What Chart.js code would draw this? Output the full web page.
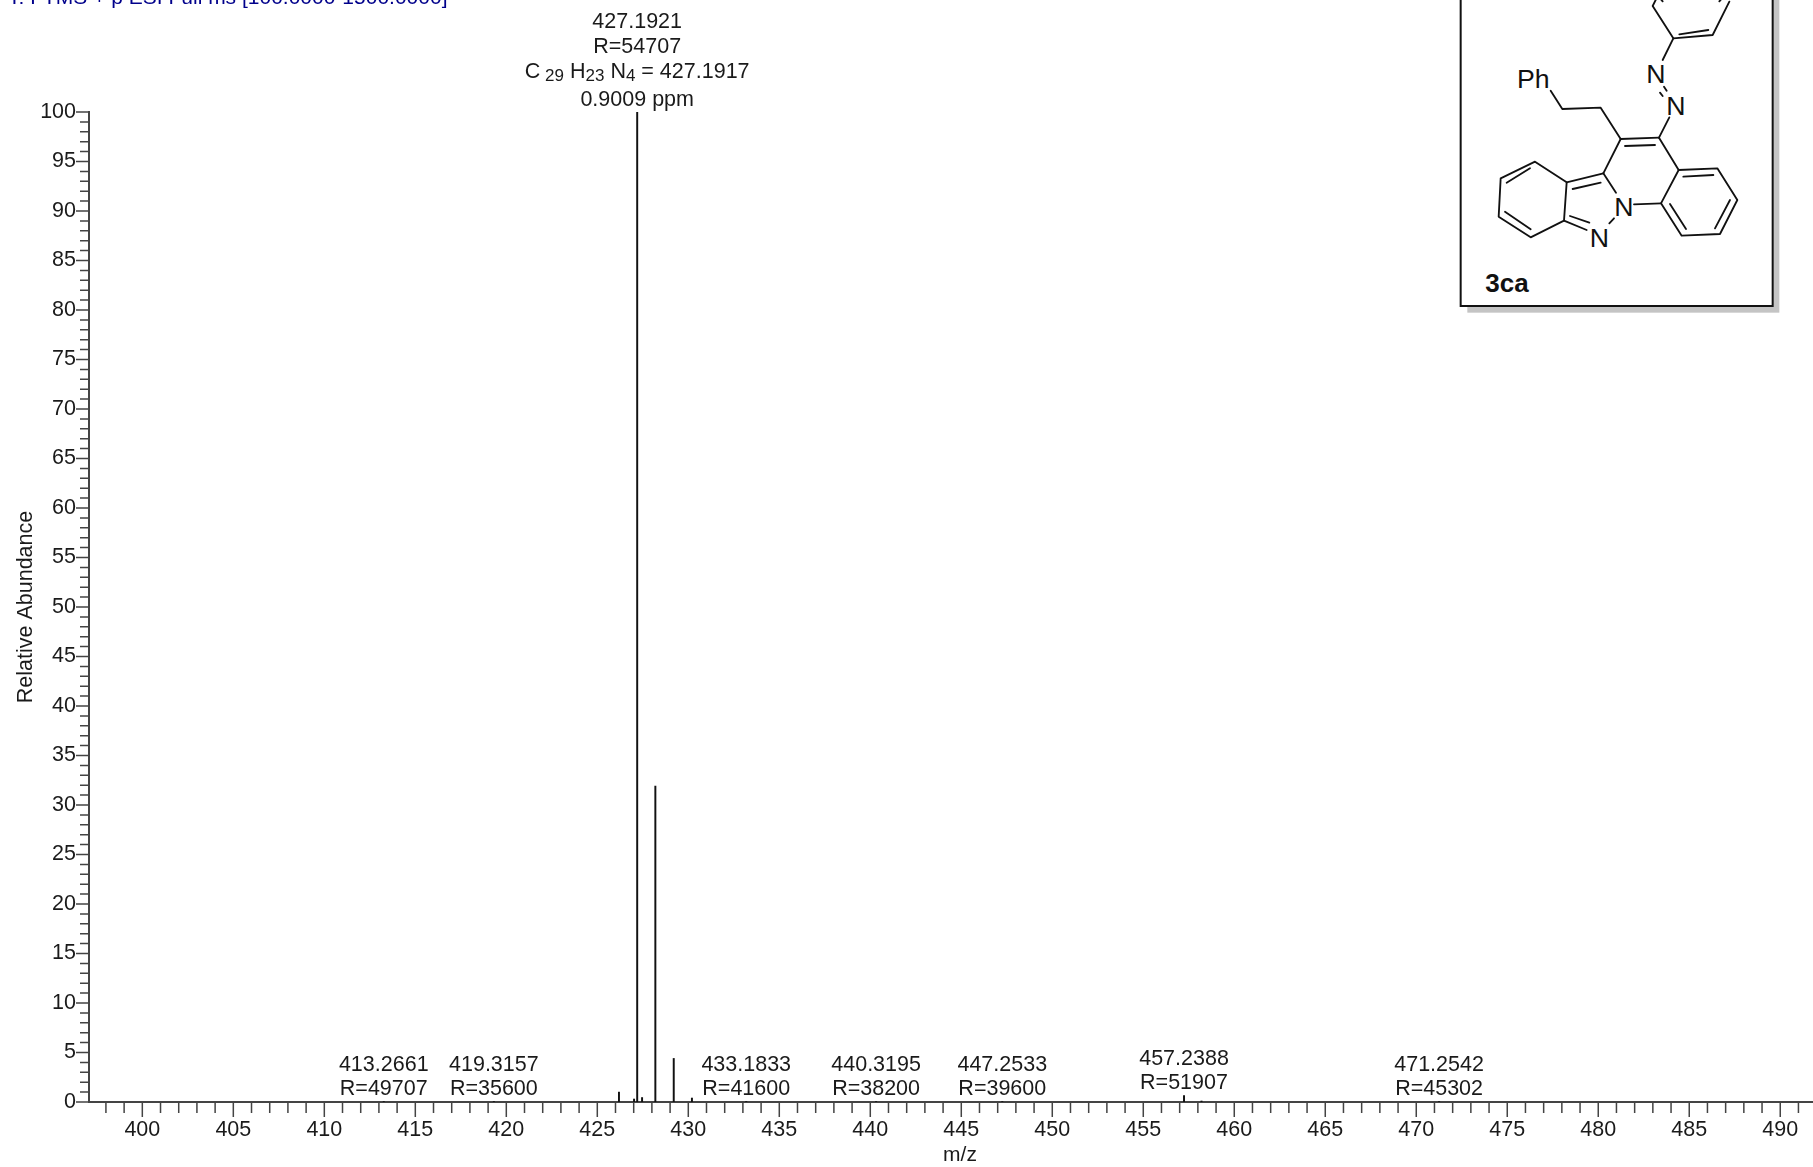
<!DOCTYPE html>
<html>
<head>
  <title>HRMS 3ca</title>
  <script src="https://cdn.jsdelivr.net/npm/chart.js"></script>
  <style>
    html, body { margin: 0; background: #fff; overflow: hidden; }
    #wrap { position: relative; width: 1813px; height: 1167px; }
    #spectrum { position: absolute; left: 0; top: 0; }
    #inset { position: absolute; left: 1440px; top: 0; }
    #inset text { font-family: "Liberation Sans", Arial, sans-serif; fill: #111; }
  </style>
</head>
<body>
  <div id="wrap">
    <canvas id="spectrum" width="1813" height="1167"></canvas>
    <svg id="inset" width="373" height="320" viewBox="0 0 1119 960">
      <rect x="82" y="-20" width="936" height="958" fill="#c4c4c4"/>
      <rect x="62" y="-30" width="936" height="948" fill="#fff" stroke="#111" stroke-width="6"/>
      <g fill="none" stroke="#111" stroke-width="5.5" stroke-linecap="round" stroke-linejoin="round">
        <polyline points="652,-10 638,18 700,115 818,105 868,5"/>
        <line x1="718" y1="103" x2="805" y2="90"/>
        <line x1="668" y1="4" x2="660" y2="-5"/>
        <line x1="838" y1="4" x2="846" y2="-5"/>
        <line x1="700" y1="115" x2="668" y2="180"/>
        <line x1="672" y1="260" x2="680" y2="272"/>
        <line x1="660" y1="278" x2="668" y2="288"/>
        <line x1="688" y1="352" x2="657" y2="413"/>
        <line x1="542" y1="417" x2="657" y2="413"/>
        <line x1="555" y1="438" x2="645" y2="435"/>
        <polyline points="542,417 482,323 367,327 332,272"/>
        <line x1="542" y1="417" x2="490" y2="520"/>
        <line x1="657" y1="413" x2="716" y2="510"/>
        <polygon points="716,510 832,505 892,600 840,702 725,707 663,610"/>
        <line x1="730" y1="530" x2="820" y2="525"/>
        <line x1="870" y1="600" x2="825" y2="685"/>
        <line x1="738" y1="687" x2="690" y2="612"/>
        <line x1="663" y1="610" x2="582" y2="613"/>
        <line x1="490" y1="520" x2="528" y2="578"/>
        <line x1="490" y1="520" x2="380" y2="547"/>
        <line x1="398" y1="567" x2="482" y2="548"/>
        <line x1="522" y1="655" x2="508" y2="670"/>
        <line x1="372" y1="662" x2="440" y2="690"/>
        <line x1="390" y1="648" x2="448" y2="668"/>
        <polygon points="380,547 285,485 182,535 176,650 272,712 372,662"/>
        <line x1="270" y1="505" x2="200" y2="548"/>
        <line x1="195" y1="635" x2="272" y2="688"/>
      </g>
      <g font-size="80" text-anchor="middle">
        <text x="280" y="265">Ph</text>
        <text x="648" y="250">N</text>
        <text x="708" y="346">N</text>
        <text x="552" y="648">N</text>
        <text x="478" y="740">N</text>
      </g>
      <text x="136" y="877" font-size="78" font-weight="bold">3ca</text>
    </svg>
  </div>

  <script>
    const peakMz = [413.2661, 419.3157, 426.19, 427.02, 427.1921, 427.46, 428.19, 429.2, 430.2, 433.1833, 440.3195, 447.2533, 457.2388, 458.2, 471.2542];
    const peakAbundance = [0.05, 0.05, 1.0, 0.3, 100, 0.45, 31.9, 4.4, 0.4, 0.05, 0.05, 0.05, 0.65, 0.1, 0.05];

    const labelMz = [413.2661, 419.3157, 433.1833, 440.3195, 447.2533, 457.2388, 471.2542];
    const labelRes = ['R=49707', 'R=35600', 'R=41600', 'R=38200', 'R=39600', 'R=51907', 'R=45302'];

    const FONT = '"Liberation Sans", Arial, sans-serif';
    const TEXT = '#1a1a1a';
    const AXIS = '#444';

    // ticks have two lengths, chart.js only does one per axis
    const tickMarks = {
      id: 'tickMarks',
      afterDraw(chart) {
        const { ctx, scales: { x, y } } = chart;
        ctx.save();
        ctx.strokeStyle = AXIS;
        ctx.lineWidth = 1.5;
        ctx.beginPath();
        x.ticks.forEach(t => {
          const px = x.getPixelForValue(t.value);
          ctx.moveTo(px, x.top);
          ctx.lineTo(px, x.top + (t.value % 5 === 0 ? 15 : 11));
        });
        y.ticks.forEach(t => {
          const py = y.getPixelForValue(t.value);
          ctx.moveTo(y.right, py);
          ctx.lineTo(y.right - (t.value % 5 === 0 ? 13 : 9), py);
        });
        ctx.stroke();
        ctx.restore();
      }
    };

    const peakLabels = {
      id: 'peakLabels',
      afterDraw(chart) {
        const { ctx, scales: { x, y } } = chart;
        ctx.save();
        ctx.fillStyle = TEXT;
        ctx.font = '21.5px ' + FONT;
        ctx.textAlign = 'center';
        ctx.textBaseline = 'alphabetic';

        labelMz.forEach((mz, i) => {
          const px = x.getPixelForValue(mz);
          const top = y.getPixelForValue(peakAbundance[peakMz.indexOf(mz)]);
          ctx.fillText(mz.toFixed(4), px, top - 31);
          ctx.fillText(labelRes[i], px, top - 7);
        });

        // base peak
        const px = x.getPixelForValue(427.1921);
        const top = y.getPixelForValue(100);
        ctx.fillText('427.1921', px, top - 84);
        ctx.fillText('R=54707', px, top - 59);
        ctx.fillText('0.9009 ppm', px, top - 6);

        const parts = [['C', 0], [' 29', 1], [' H', 0], ['23', 1], [' N', 0], ['4', 1], [' = 427.1917', 0]];
        const width = parts.reduce((w, p) => {
          ctx.font = (p[1] ? '17px ' : '21.5px ') + FONT;
          return w + ctx.measureText(p[0]).width;
        }, 0);
        let cx = px - width / 2;
        ctx.textAlign = 'left';
        parts.forEach(p => {
          ctx.font = (p[1] ? '17px ' : '21.5px ') + FONT;
          ctx.fillText(p[0], cx, top - 34 + (p[1] ? 3 : 0));
          cx += ctx.measureText(p[0]).width;
        });

        // x title sits off the centre of the axis
        ctx.font = '21px ' + FONT;
        ctx.textAlign = 'center';
        ctx.fillText('m/z', 960, 1161);

        // header is cut by the top of the page
        ctx.fillStyle = '#00008b';
        ctx.font = '21px ' + FONT;
        ctx.textAlign = 'left';
        ctx.fillText('T: FTMS + p ESI Full ms [100.0000-1500.0000]', 8, 4);
        ctx.restore();
      }
    };

    new Chart(document.getElementById('spectrum'), {
      type: 'bar',
      data: {
        datasets: [{
          data: peakMz.map((mz, i) => ({ x: mz, y: peakAbundance[i] })),
          backgroundColor: '#111',
          barThickness: 1.3
        }]
      },
      options: {
        responsive: false,
        animation: false,
        devicePixelRatio: 1,
        layout: { autoPadding: false, padding: { top: 112, left: 0, right: 0, bottom: 0 } },
        plugins: { legend: { display: false }, tooltip: { enabled: false } },
        scales: {
          x: {
            type: 'linear',
            min: 397.07,
            max: 491.8,
            offset: false,
            afterFit: s => { s.height = 65; },
            grid: { display: false },
            border: { color: AXIS, width: 2 },
            ticks: {
              stepSize: 1,
              includeBounds: false,
              autoSkip: false,
              maxRotation: 0,
              padding: 7,
              color: TEXT,
              font: { family: FONT, size: 21.5 },
              callback: v => (v % 5 === 0 ? v : '')
            }
          },
          y: {
            min: 0,
            max: 100,
            afterFit: s => { s.width = 89; },
            grid: { display: false },
            border: { color: AXIS, width: 2 },
            title: {
              display: true,
              text: 'Relative Abundance',
              color: TEXT,
              font: { family: FONT, size: 21.5 },
              padding: { top: 13, bottom: 0 }
            },
            ticks: {
              stepSize: 1,
              autoSkip: false,
              padding: 5,
              color: TEXT,
              font: { family: FONT, size: 21.5 },
              callback: v => (v % 5 === 0 ? v : '')
            }
          }
        }
      },
      plugins: [tickMarks, peakLabels]
    });
  </script>
</body>
</html>
